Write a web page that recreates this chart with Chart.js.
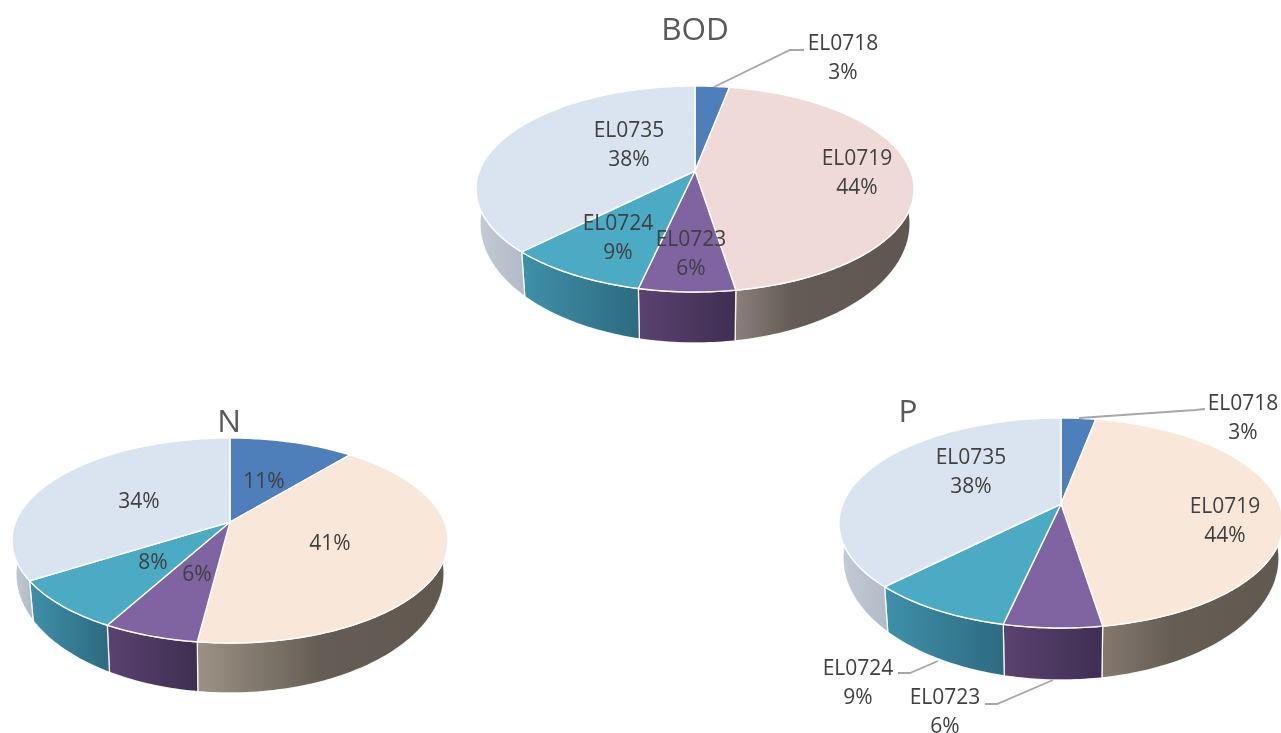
<!DOCTYPE html>
<html>
<head>
<meta charset="utf-8">
<title>BOD, N and P shares by catchment</title>
<script src="https://cdn.jsdelivr.net/npm/chart.js@4/dist/chart.umd.min.js"></script>
<style>
  html, body { margin: 0; padding: 0; background: #fff; overflow: hidden; }
  #stage { position: relative; width: 1281px; height: 733px; overflow: hidden; }
  #stage canvas { position: absolute; left: 0; top: 0; }
</style>
</head>
<body>
<div id="stage">
  <canvas id="bod" width="1281" height="733"></canvas>
  <canvas id="n" width="1281" height="733"></canvas>
  <canvas id="p" width="1281" height="733"></canvas>
</div>
<script>
// Catchment categories and their percentage shares
const categories = ['EL0718', 'EL0719', 'EL0723', 'EL0724', 'EL0735'];
const bodValues = [3, 44, 6, 9, 38];
const nValues = [11, 41, 6, 8, 34];
const pValues = [3, 44, 6, 9, 38];

const PAGE_W = 1281, PAGE_H = 733;
const FONT = '"Open Sans", sans-serif';
const LABEL_COLOR = '#404040';
const TITLE_COLOR = '#595959';
const LEADER_COLOR = '#a6a6a6';

// Wall gradients run across the visible width of each slice
const wallShade = {
  dark:  [[0, '#8b8079'], [0.32, '#655b56'], [1, '#5f5652']],
  warm:  [[0, '#9c9184'], [0.5, '#655d55'], [1, '#615950']],
  warmP: [[0, '#85796f'], [0.38, '#665d55'], [1, '#615950']],
  blue:  [[0, '#3e6596'], [1, '#2f4f78']],
  violet:[[0, '#5b4270'], [1, '#3f2f52']],
  teal:  [[0, '#3f90aa'], [1, '#2e6b80']],
  mist:  [[0, '#c4ccd6'], [1, '#b2bbc7']]
};

const roseFill = ['#4f7fbb', '#efdad8', '#8063a1', '#4babc5', '#dae4f0'];
const peachFill = ['#4f7fbb', '#f9e8d9', '#8063a1', '#4babc5', '#dae4f0'];

// The lower rim of the pie sits nearer the viewer: narrower in x, deeper in y
const LOWER_SCALE_X = 0.982, LOWER_SCALE_Y = 1.16;

// Perspective disc: maps an angle around the pie to a point on the top face.
// "lag" eases the front of the disc round a little, fading out at the top seam.
function discProjector(shape) {
  const k = (shape.near - shape.far) / (shape.near + shape.far);
  const a = shape.near * (1 - k);
  const b = shape.rx * Math.sqrt(1 - k * k);
  const lag = (shape.lag || 0) * Math.PI / 180;
  return (angle) => {
    const swept = angle + Math.PI / 2;
    const t = angle + lag * Math.pow(Math.sin(swept / 2), 2);
    const w = 1 - k * Math.sin(t);
    return { x: b * Math.cos(t) / w, y: a * Math.sin(t) / w, front: Math.sin(t) > -0.12 };
  };
}

function sampleAngles(start, end) {
  const steps = Math.max(2, Math.ceil((end - start) / (Math.PI / 180)));
  const out = [];
  for (let i = 0; i <= steps; i++) out.push(start + (end - start) * i / steps);
  return out;
}

const pie3d = {
  id: 'pie3d',
  // The arcs are drawn here as a tilted disc, so the flat default is skipped
  beforeDatasetDraw(chart, args, opts) {
    const ctx = chart.ctx;
    const arcs = chart.getDatasetMeta(args.index).data;
    const project = discProjector(opts.shape);
    const lowerDrop = opts.shape.bottom - opts.shape.near * LOWER_SCALE_Y;
    ctx.save();
    ctx.lineJoin = 'round';

    arcs.forEach((arc, i) => {
      const angles = sampleAngles(arc.startAngle, arc.endAngle);
      const upper = angles.map(t => {
        const p = project(t);
        return { x: arc.x + p.x, y: arc.y + p.y, front: p.front };
      });
      const lower = angles.map(t => {
        const p = project(t);
        return { x: arc.x + p.x * LOWER_SCALE_X, y: arc.y + p.y * LOWER_SCALE_Y + lowerDrop };
      });
      const seen = upper.filter(p => p.front);
      if (!seen.length) return;
      const xs = seen.map(p => p.x);
      const grad = ctx.createLinearGradient(Math.min(...xs), 0, Math.max(...xs), 0);
      opts.walls[i].forEach(([stop, col]) => grad.addColorStop(stop, col));
      ctx.beginPath();
      upper.forEach((p, j) => j ? ctx.lineTo(p.x, p.y) : ctx.moveTo(p.x, p.y));
      lower.slice().reverse().forEach(p => ctx.lineTo(p.x, p.y));
      ctx.closePath();
      ctx.fillStyle = grad;
      ctx.fill();
      ctx.strokeStyle = 'rgba(255,255,255,0.9)';
      ctx.lineWidth = 1.3;
      ctx.stroke();
    });

    arcs.forEach((arc, i) => {
      ctx.beginPath();
      ctx.moveTo(arc.x, arc.y);
      sampleAngles(arc.startAngle, arc.endAngle).forEach(t => {
        const p = project(t);
        ctx.lineTo(arc.x + p.x, arc.y + p.y);
      });
      ctx.closePath();
      ctx.fillStyle = arc.options.backgroundColor;
      ctx.fill();
      ctx.strokeStyle = '#ffffff';
      ctx.lineWidth = 1.4;
      ctx.stroke();
    });
    ctx.restore();
    return false;
  },
  afterDatasetsDraw(chart, args, opts) {
    const ctx = chart.ctx;
    const values = chart.data.datasets[0].data;
    ctx.save();
    ctx.strokeStyle = LEADER_COLOR;
    ctx.lineWidth = 1.8;
    opts.leaders.forEach(path => {
      ctx.beginPath();
      path.forEach(([x, y], j) => j ? ctx.lineTo(x, y) : ctx.moveTo(x, y));
      ctx.stroke();
    });
    ctx.textAlign = 'center';
    ctx.textBaseline = 'middle';
    ctx.fillStyle = LABEL_COLOR;
    ctx.font = `${opts.labelSize}px ${FONT}`;
    opts.labelAt.forEach(([x, y], i) => {
      const pct = `${values[i]}%`;
      if (opts.named) {
        ctx.fillText(chart.data.labels[i], x, y - 13.5);
        ctx.fillText(pct, x, y + 15.5);
      } else {
        ctx.fillText(pct, x, y + 1);
      }
    });
    ctx.fillStyle = TITLE_COLOR;
    ctx.font = `${opts.titleSize}px ${FONT}`;
    ctx.fillText(opts.heading, opts.headingAt[0], opts.headingAt[1]);
    ctx.restore();
  }
};

// Padding that puts the centre of the chart area on a given page point
function paddingFor(cx, cy) {
  return {
    left: Math.max(0, 2 * cx - PAGE_W),
    right: Math.max(0, PAGE_W - 2 * cx),
    top: Math.max(0, 2 * cy - PAGE_H),
    bottom: Math.max(0, PAGE_H - 2 * cy)
  };
}

function drawPie(id, values, fills, center, plugin3d) {
  return new Chart(document.getElementById(id), {
    type: 'pie',
    data: {
      labels: categories,
      datasets: [{ data: values, backgroundColor: fills, borderWidth: 0 }]
    },
    options: {
      responsive: false,
      animation: false,
      events: [],
      layout: { padding: paddingFor(center[0], center[1]) },
      plugins: {
        legend: { display: false },
        tooltip: { enabled: false },
        pie3d: plugin3d
      }
    },
    plugins: [pie3d]
  });
}

drawPie('bod', bodValues, roseFill, [695, 171], {
  heading: 'BOD', headingAt: [695, 31], titleSize: 31.5, labelSize: 21, named: true,
  shape: { rx: 219, near: 121, far: 85, bottom: 172, lag: 1.8 },
  walls: [wallShade.blue, wallShade.dark, wallShade.violet, wallShade.teal, wallShade.mist],
  labelAt: [[843, 57.5], [857, 172.5], [691, 253.5], [618, 237.5], [629, 144.5]],
  leaders: [[[714, 87], [790, 50], [804, 50]]]
});

drawPie('n', nValues, peachFill, [230, 522], {
  heading: 'N', headingAt: [229, 423], titleSize: 31.5, labelSize: 21, named: false,
  shape: { rx: 218, near: 121, far: 84, bottom: 171 },
  walls: [wallShade.blue, wallShade.warm, wallShade.violet, wallShade.teal, wallShade.mist],
  labelAt: [[264, 481], [330, 543], [197, 574], [153, 562], [139, 501]],
  leaders: []
});

drawPie('p', pValues, peachFill, [1061, 504], {
  heading: 'P', headingAt: [908, 413], titleSize: 31.5, labelSize: 21, named: true,
  shape: { rx: 222, near: 124, far: 86, bottom: 176, lag: 1.8 },
  walls: [wallShade.blue, wallShade.warmP, wallShade.violet, wallShade.teal, wallShade.mist],
  labelAt: [[1243, 417.5], [1225, 520.5], [945, 711.5], [858, 682.5], [971, 471.5]],
  leaders: [
    [[1079, 418], [1195, 410], [1205, 409]],
    [[1053, 680], [997, 704], [985, 704]],
    [[938, 661], [910, 673], [898, 673]]
  ]
});
</script>
</body>
</html>
